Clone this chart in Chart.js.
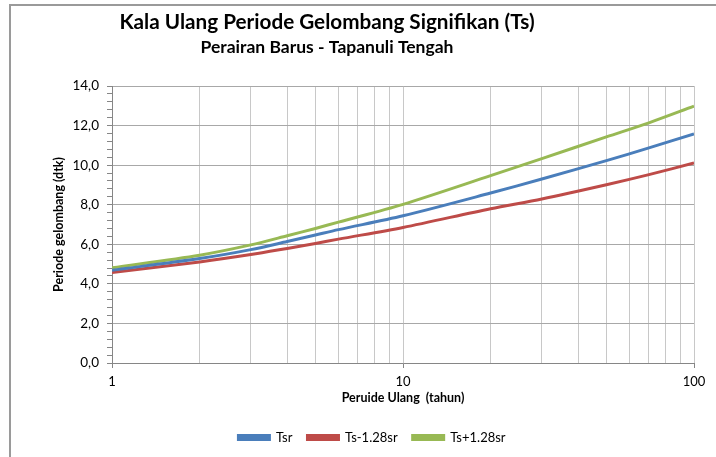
<!DOCTYPE html>
<html>
<head>
<meta charset="utf-8">
<script src="https://cdn.jsdelivr.net/npm/chart.js@4.4.1/dist/chart.umd.min.js"></script>
<style>
  html, body { margin: 0; padding: 0; background: #fff; }
  #wrap { position: relative; width: 716px; height: 457px; }
</style>
</head>
<body>
<div id="wrap"><canvas id="tsChart" width="716" height="457"></canvas></div>
<script>
// Return periods (tahun) and wave period values (dtk)
const periods = [1, 2, 3, 4, 5, 6, 10, 20, 30, 50, 70, 100];
const tsr      = [4.69, 5.28, 5.73, 6.14, 6.47, 6.74, 7.44, 8.59, 9.30, 10.23, 10.87, 11.58];
const tsMinus  = [4.57, 5.11, 5.48, 5.79, 6.04, 6.26, 6.85, 7.80, 8.29, 9.01, 9.52, 10.11];
const tsPlus   = [4.81, 5.45, 5.97, 6.43, 6.80, 7.12, 8.02, 9.47, 10.33, 11.43, 12.14, 12.98];

const xGridValues = [1, 2, 3, 4, 5, 6, 7, 8, 9, 10, 20, 30, 40, 50, 60, 70, 80, 90, 100];
const xLabelValues = [1, 10, 100];
const yMajorValues = [0, 2, 4, 6, 8, 10, 12, 14];
const yMinorStep = 0.4;

const FONT = 'Lato, "Open Sans", sans-serif';

document.addEventListener("DOMContentLoaded", () => {
    const ctx = document.getElementById('tsChart').getContext('2d');

    const toPoints = vals => periods.map((p, i) => ({ x: p, y: vals[i] }));
    const isMajorY = v => yMajorValues.some(m => Math.abs(m - v) < 1e-6);

    // Titles and outer frame, drawn like the Excel chart
    const decorations = {
        id: 'decorations',
        afterDraw(chart) {
            const c = chart.ctx;
            c.save();
            c.strokeStyle = '#9a9a9a';
            c.lineWidth = 2;
            c.beginPath();
            c.moveTo(10, 457);
            c.lineTo(10, 5);
            c.lineTo(716, 5);
            c.stroke();

            c.fillStyle = '#000';
            c.textAlign = 'center';
            c.textBaseline = 'middle';
            c.font = 'bold 20.7px ' + FONT;
            c.fillText('Kala Ulang Periode Gelombang Signifikan (Ts)', 327, 22);
            c.font = 'bold 17.5px ' + FONT;
            c.fillText('Perairan Barus - Tapanuli Tengah', 327, 47);
            c.restore();
        }
    };

    const lineSet = (label, vals, color) => ({
        label: label,
        data: toPoints(vals),
        borderColor: color,
        backgroundColor: color,
        borderWidth: 3,
        pointRadius: 0,
        fill: false,
        tension: 0.3
    });

    new Chart(ctx, {
        type: 'line',
        data: {
            datasets: [
                lineSet('Tsr', tsr, '#4a7ebb'),
                lineSet('Ts-1.28sr', tsMinus, '#be4b48'),
                lineSet('Ts+1.28sr', tsPlus, '#98b954')
            ]
        },
        plugins: [decorations],
        options: {
            responsive: false,
            animation: false,
            layout: { padding: { top: 86, left: 50, right: 22, bottom: 3 } },
            plugins: {
                tooltip: { enabled: false },
                legend: {
                    position: 'bottom',
                    labels: {
                        color: '#000',
                        boxWidth: 31,
                        boxHeight: 4,
                        padding: 15,
                        font: { family: FONT, size: 13 }
                    }
                }
            },
            scales: {
                x: {
                    type: 'logarithmic',
                    min: 1,
                    max: 100,
                    afterBuildTicks: s => { s.ticks = xGridValues.map(v => ({ value: v })); },
                    afterFit: s => { s.height = 53; },
                    ticks: {
                        autoSkip: false,
                        maxRotation: 0,
                        color: '#000',
                        padding: 6,
                        font: { family: FONT, size: 13 },
                        callback: v => xLabelValues.includes(v) ? String(v) : ''
                    },
                    grid: {
                        color: '#c8c8c8',
                        tickLength: 5,
                        tickColor: c => xLabelValues.includes(c.tick && c.tick.value) ? '#868686' : 'rgba(0,0,0,0)'
                    },
                    border: { color: '#868686' },
                    title: {
                        display: true,
                        text: 'Peruide Ulang  (tahun)',
                        color: '#000',
                        font: { family: FONT, size: 12.5, weight: 'bold' },
                        padding: { top: 2, bottom: 11 }
                    }
                },
                y: {
                    min: 0,
                    max: 14,
                    afterBuildTicks: s => {
                        const t = [];
                        for (let i = 0; i <= Math.round(14 / yMinorStep); i++) t.push({ value: +(i * yMinorStep).toFixed(1) });
                        s.ticks = t;
                    },
                    afterFit: s => { s.width = 62; },
                    ticks: {
                        autoSkip: false,
                        color: '#000',
                        padding: 8,
                        font: { family: FONT, size: 13.5 },
                        callback: v => isMajorY(v) ? v.toFixed(1).replace('.', ',') : ''
                    },
                    grid: {
                        color: c => isMajorY(c.tick && c.tick.value) ? '#a8a8a8' : 'rgba(0,0,0,0)',
                        tickLength: 5,
                        tickColor: '#868686'
                    },
                    border: { color: '#868686' },
                    title: {
                        display: true,
                        text: 'Periode gelombang (dtk)',
                        color: '#000',
                        font: { family: FONT, size: 12.5, weight: 'bold' },
                        padding: { top: 1, bottom: 0 }
                    }
                }
            }
        }
    });
});
</script>
</body>
</html>
